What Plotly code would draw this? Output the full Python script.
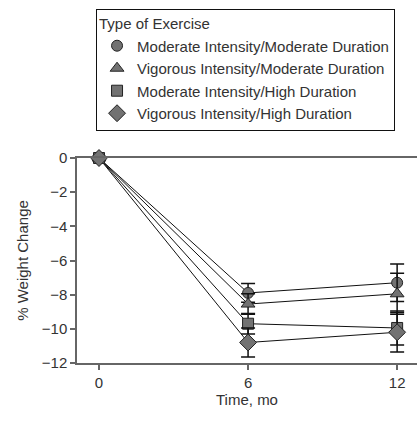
import plotly.graph_objects as go

months = [0, 6, 12]
series_names = [
    "Moderate Intensity/Moderate Duration",
    "Vigorous Intensity/Moderate Duration",
    "Moderate Intensity/High Duration",
    "Vigorous Intensity/High Duration",
]
symbols = ["circle", "triangle-up", "square", "diamond"]
mod_mod = [0, -7.9, -7.3]
vig_mod = [0, -8.55, -7.95]
mod_high = [0, -9.7, -9.95]
vig_high = [0, -10.8, -10.2]
mod_mod_err = [0, 0.55, 1.1]
vig_mod_err = [0, 0.6, 1.2]
mod_high_err = [0, 0.6, 1.0]
vig_high_err = [0, 0.85, 1.15]

values = [mod_mod, vig_mod, mod_high, vig_high]
errors = [mod_mod_err, vig_mod_err, mod_high_err, vig_high_err]
sizes = [11, 12, 11, 13]

font_family = "Liberation Sans, Arial, sans-serif"
txt = "#333333"
fs = 15

fig = go.Figure()
# connecting lines (no legend entry)
for name, v in zip(series_names, values):
    fig.add_trace(go.Scatter(
        x=months, y=v, mode="lines", showlegend=False, hoverinfo="skip",
        line=dict(color="#111111", width=1), cliponaxis=False,
    ))
# markers with error bars (legend entries show marker only)
for name, sym, v, e, s in zip(series_names, symbols, values, errors, sizes):
    fig.add_trace(go.Scatter(
        x=months, y=v, name=name, mode="markers",
        marker=dict(symbol=sym, size=s, color="#727272",
                    line=dict(color="#222222", width=1)),
        error_y=dict(type="data", array=e, visible=True, color="#111111",
                     thickness=1.5, width=7),
        cliponaxis=False,
    ))

fig.update_layout(
    width=417, height=432,
    margin=dict(l=77, r=0, t=158, b=69),
    paper_bgcolor="white", plot_bgcolor="white",
    font=dict(family=font_family, size=fs, color=txt),
    showlegend=True,
    legend=dict(
        title=dict(text="Type of Exercise", font=dict(size=fs, color=txt)),
        x=0.056, y=1.727, xanchor="left", yanchor="top",
        bordercolor="#111111", borderwidth=1, bgcolor="white",
        font=dict(size=fs, color=txt),
        tracegroupgap=0, itemwidth=30,
    ),
    xaxis=dict(
        range=[-0.886, 12.8], tickvals=months, ticktext=["0", "6", "12"],
        showline=True, linecolor="#666666", linewidth=1.5, mirror=True,
        ticks="outside", ticklen=5, tickcolor="#666666", tickwidth=1.5,
        showgrid=False, zeroline=False,
        title=dict(text="Time, mo", font=dict(size=fs, color=txt), standoff=4),
        tickfont=dict(size=fs, color=txt),
    ),
    yaxis=dict(
        range=[-12, 0], tickvals=[0, -2, -4, -6, -8, -10, -12],
        ticktext=["0", "\u22122", "\u22124", "\u22126", "\u22128", "\u221210", "\u221212"],
        showline=True, linecolor="#666666", linewidth=1.5,
        ticks="outside", ticklen=5, tickcolor="#666666", tickwidth=1.5,
        showgrid=False, zeroline=False,
        title=dict(text="% Weight Change", font=dict(size=fs, color=txt), standoff=10),
        tickfont=dict(size=fs, color=txt),
    ),
)

fig.write_html(
    "out.html",
    config={"displayModeBar": False},
    post_script="document.body.style.margin='0';document.body.style.overflow='hidden';",
)
